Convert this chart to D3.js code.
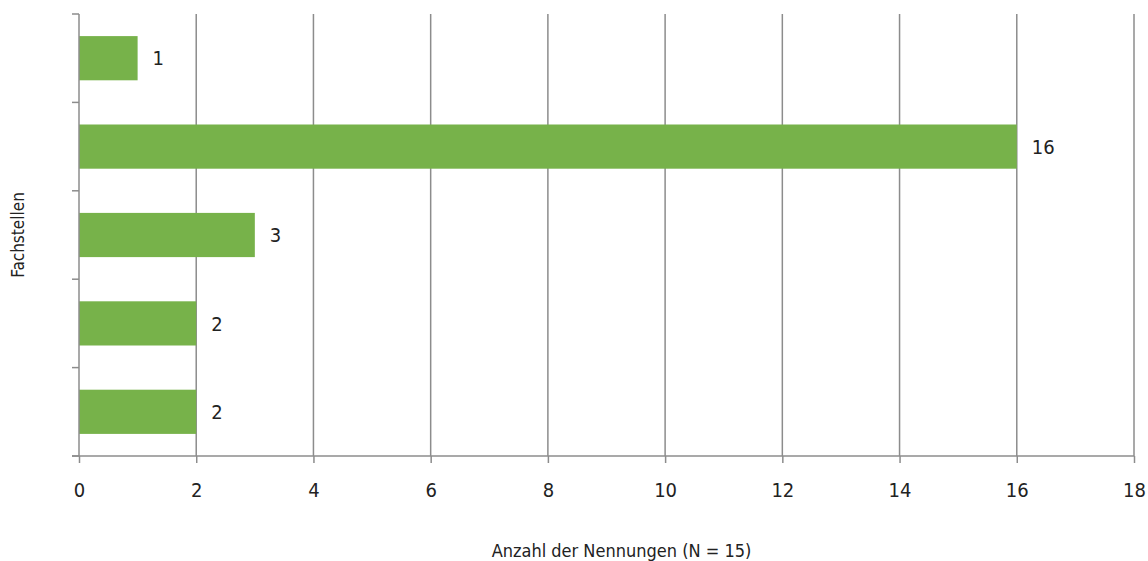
<!DOCTYPE html>
<html>
<head>
<meta charset="utf-8">
<script src="https://cdn.jsdelivr.net/npm/d3@7"></script>
<style>
  html, body { margin: 0; padding: 0; background: #fff; }
  svg text { font-family: "DejaVu Sans Condensed", "Liberation Sans Narrow", sans-serif; fill: #222; }
</style>
</head>
<body>
<svg id="chart" width="1148" height="561"></svg>
<script>
// Fachstellen, top to bottom
const categories = ["Fachstelle 1", "Fachstelle 2", "Fachstelle 3", "Fachstelle 4", "Fachstelle 5"];
const values = [1, 16, 3, 2, 2];
const xTicks = [0, 2, 4, 6, 8, 10, 12, 14, 16, 18];
const xTitle = "Anzahl der Nennungen  (N = 15)";
const yTitle = "Fachstellen";

const svg = d3.select("#chart");
const plotLeft = 79, plotRight = 1134, plotTop = 14, plotBottom = 456;
const fontStack = '"DejaVu Sans Condensed", "Liberation Sans Narrow", sans-serif';

const x = d3.scaleLinear().domain([0, 18]).range([plotLeft, plotRight]);
const y = d3.scaleBand().domain(categories).range([plotTop, plotBottom]).paddingInner(0.5).paddingOuter(0.25);

const gridColor = "#8c8c8c";

// vertical gridlines
svg.append("g").selectAll("line").data(xTicks.slice(1)).join("line")
  .attr("x1", d => x(d)).attr("x2", d => x(d))
  .attr("y1", plotTop).attr("y2", plotBottom)
  .attr("stroke", gridColor).attr("stroke-width", 1.5);

// bars
svg.append("g").selectAll("rect").data(values).join("rect")
  .attr("x", x(0))
  .attr("y", (d, i) => y(categories[i]))
  .attr("width", d => x(d) - x(0))
  .attr("height", y.bandwidth())
  .attr("fill", "#77b24a");

// value labels
svg.append("g").selectAll("text").data(values).join("text")
  .attr("x", d => x(d) + 15)
  .attr("y", (d, i) => y(categories[i]) + y.bandwidth() / 2)
  .attr("dy", "0.36em")
  .attr("font-size", 20)
  .text(d => d);

// y axis: line plus category boundary ticks
const boundaries = d3.range(categories.length + 1).map(i => plotTop + i * (plotBottom - plotTop) / categories.length);
svg.append("line")
  .attr("x1", plotLeft).attr("x2", plotLeft).attr("y1", plotTop).attr("y2", plotBottom)
  .attr("stroke", gridColor).attr("stroke-width", 1.5);
svg.append("g").selectAll("line").data(boundaries).join("line")
  .attr("x1", plotLeft - 7).attr("x2", plotLeft)
  .attr("y1", d => d).attr("y2", d => d)
  .attr("stroke", gridColor).attr("stroke-width", 1.5);

// x axis
const xAxis = svg.append("g").attr("transform", `translate(0,${plotBottom})`)
  .call(d3.axisBottom(x).tickValues(xTicks).tickSize(7).tickPadding(20).tickSizeOuter(0));
xAxis.select(".domain").remove();
xAxis.selectAll(".tick line").attr("stroke", gridColor).attr("stroke-width", 1.5);
xAxis.selectAll(".tick text").attr("font-size", 20).attr("fill", "#222")
  .style("font-family", fontStack);
svg.append("line")
  .attr("x1", plotLeft - 7).attr("x2", plotRight).attr("y1", plotBottom).attr("y2", plotBottom)
  .attr("stroke", gridColor).attr("stroke-width", 1.5);

// axis titles
svg.append("text")
  .attr("x", (plotLeft + plotRight) / 2 + 15).attr("y", 557)
  .attr("text-anchor", "middle").attr("font-size", 18)
  .text(xTitle);
svg.append("text")
  .attr("transform", "translate(24,235) rotate(-90)")
  .attr("text-anchor", "middle").attr("font-size", 17)
  .text(yTitle);
</script>
</body>
</html>
